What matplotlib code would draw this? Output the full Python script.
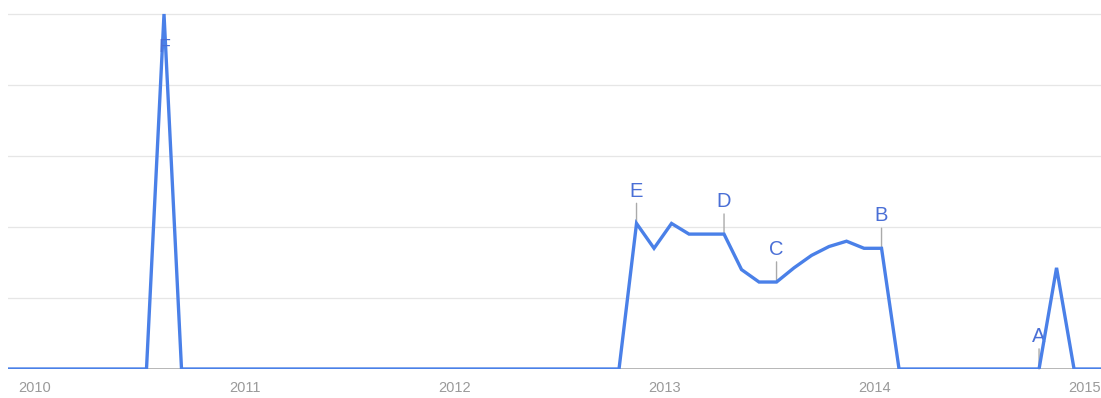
import matplotlib
matplotlib.use("Agg")
import matplotlib.pyplot as plt
import numpy as np

# Monthly interest values, month -1 = Dec 2009, month 0 = Jan 2010
values = [0]*9 + [100] + [0]*26 + [41, 34, 41, 38, 38, 38, 28, 24.5, 24.5, 28.5, 32, 34.5, 36, 34, 34] + [0]*9 + [28.5, 0, 0, 0]
months = list(range(-1, len(values) - 1))

year_labels = ["2010", "2011", "2012", "2013", "2014", "2015"]
year_months = [0, 12, 24, 36, 48, 60]

ann_letters = ["A", "B", "C", "D", "E", "F"]
ann_months = [58, 49, 43, 40, 35, 8]

W, H = 1101, 398
fig = plt.figure(figsize=(W/100, H/100), dpi=100)
ytop = 102
ax = fig.add_axes([8/W, (H-369)/H, (W-8)/W, 3.55*ytop/H])

line_color = "#4a80e8"
text_color = "#4a6fd6"

ax.set_xlim(-0.914, 61.54)
ax.set_ylim(0, ytop)

for g in [20, 40, 60, 80, 100]:
    ax.axhline(g, color="#e6e6e6", lw=0.9, zorder=0)
ax.axhline(0, color="#aaaaaa", lw=1.2, zorder=1)

ax.plot(months, values, color=line_color, lw=2.4, zorder=3,
        solid_joinstyle="miter")

for let, m in zip(ann_letters, ann_months):
    v = values[months.index(m)]
    if v >= 95:
        ax.annotate(let, xy=(m, v), xytext=(0, -24), textcoords="offset points",
                    ha="center", va="center", fontsize=14, color=text_color,
                    family="Liberation Sans", zorder=4)
    else:
        ax.annotate(let, xy=(m, v), xytext=(0, 16.5), textcoords="offset points",
                    ha="center", va="bottom", fontsize=14.5, color=text_color,
                    family="Liberation Sans", zorder=2,
                    arrowprops=dict(arrowstyle="-", color="#aaaaaa", lw=1.0,
                                    shrinkA=0, shrinkB=0))

ax.set_xticks([m + 0.6 for m in year_months])
ax.set_xticklabels(year_labels, fontsize=10.5, color="#9a9a9a", family="Liberation Sans")
ax.tick_params(axis="x", length=0, pad=9)
ax.set_yticks([])
for s in ax.spines.values():
    s.set_visible(False)

fig.savefig("out.png", dpi=100)
